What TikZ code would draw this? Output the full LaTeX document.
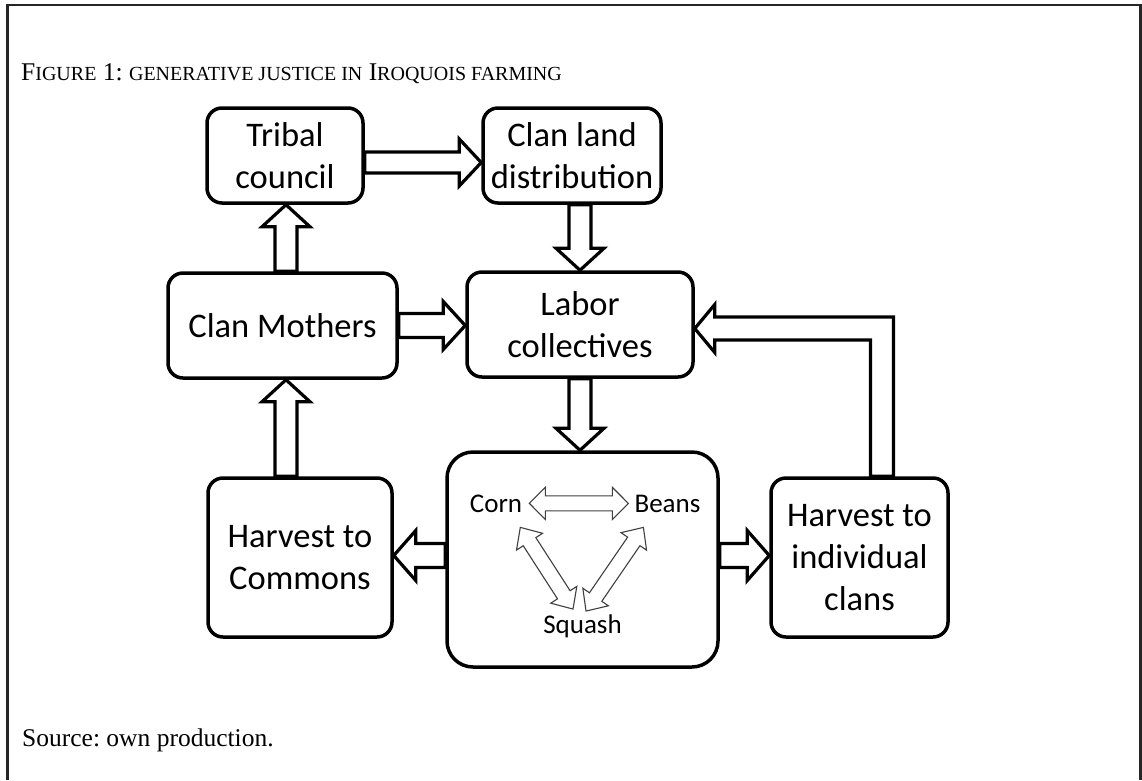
\documentclass[tikz,border=0pt]{standalone}
\usepackage{fontspec}
\setmainfont{Liberation Serif}
\newfontfamily\calib{Carlito}
\usetikzlibrary{calc,backgrounds}
\frenchspacing

% Hollow block arrow: #1 style, #2 start, #3 tip, #4 half shaft, #5 half head, #6 head length
\newcommand\blockarrow[6]{%
  \coordinate (ba-b) at ($(#3)!#6!(#2)$);
  \draw[#1] ($(#2)!#4!90:(#3)$) -- ($(ba-b)!#4!-90:(#2)$) -- ($(ba-b)!#5!-90:(#2)$)
    -- (#3) -- ($(ba-b)!#5!90:(#2)$) -- ($(ba-b)!#4!90:(#2)$) -- ($(#2)!#4!-90:(#3)$) -- cycle;
}
% Hollow arrow with a head at each end
\newcommand\twinarrow[6]{%
  \coordinate (ta-a) at ($(#2)!#6!(#3)$);
  \coordinate (ta-b) at ($(#3)!#6!(#2)$);
  \draw[#1] (#2) -- ($(ta-a)!#5!90:(#3)$) -- ($(ta-a)!#4!90:(#3)$) -- ($(ta-b)!#4!-90:(#2)$)
    -- ($(ta-b)!#5!-90:(#2)$) -- (#3) -- ($(ta-b)!#5!90:(#2)$) -- ($(ta-b)!#4!90:(#2)$)
    -- ($(ta-a)!#4!-90:(#3)$) -- ($(ta-a)!#5!-90:(#3)$) -- cycle;
}
% Small capitals set by hand
\newcommand\smallcap[1]{{\fontsize{20}{20}\selectfont #1}}

\begin{document}
\begin{tikzpicture}[x=1pt,y=-1pt,
  box/.style={draw, line width=3.5pt, rounded corners=15pt, fill=white, align=center,
    inner sep=0pt, font=\calib\fontsize{34.5}{42}\selectfont},
  bigarrow/.style={draw=black, line width=3.2pt, line join=miter, fill=white},
  thinarrow/.style={draw=black!75, line width=1.1pt, line join=miter, fill=white},
  crop/.style={font=\calib\fontsize{27}{30}\selectfont, inner sep=0pt, anchor=base},
  plain/.style={font=\fontsize{25.5}{30}\selectfont, inner sep=0pt, anchor=base west}]
\useasboundingbox (0,0) rectangle (1142,780);

% frame
\draw[line width=2.6pt, black!85] (7.5,780) -- (7.5,5) -- (1140.5,5) -- (1140.5,780);

\node[plain] (caption) at (21,80) {F\smallcap{IGURE} 1: \smallcap{GENERATIVE JUSTICE IN} I\smallcap{ROQUOIS FARMING}};
\node[plain] (source) at (22,746) {Source: own production.};

% boxes
\node[box, minimum width=156pt, minimum height=95pt] (tribal) at (285,155.5) {Tribal\\council};
\node[box, minimum width=178pt, minimum height=95pt] (land) at (572,155.5) {Clan land\\distribution};
\node[box, minimum width=229pt, minimum height=105pt] (mothers) at (282.5,325.5) {Clan Mothers};
\node[box, minimum width=226pt, minimum height=105pt] (labor) at (580,324.5) {Labor\\collectives};
\node[box, minimum width=271pt, minimum height=215pt, rounded corners=26pt] (fields) at (582.5,559.5) {};
\node[box, minimum width=184pt, minimum height=159pt] (commons) at (300,557.5) {Harvest to\\Commons};
\node[box, minimum width=177pt, minimum height=159pt] (clans) at (859.5,557.5) {Harvest to\\individual\\clans};

% the three crops
\node[crop] (corn) at (496,512) {Corn};
\node[crop] (beans) at (667.5,512) {Beans};
\node[crop] (squash) at (582.5,633) {Squash};

\coordinate (cbL) at ($(corn.east)+(7,0)$);
\coordinate (cbR) at ($(beans.west)+(-6,0)$);
\coordinate (csT) at ($(corn.south east)+(-2,15)$);
\coordinate (csB) at ($(squash.north)+(-9.5,-5)$);
\coordinate (bsT) at ($(beans.south west)+(9,15)$);
\coordinate (bsB) at ($(squash.north)+(3.5,-3)$);

% connectors behind the boxes
\begin{pgfonlayer}{background}
  \coordinate (a1s) at (tribal.east |- 0,162.5);
  \coordinate (a1t) at (land.west |- 0,162.5);
  \blockarrow{bigarrow}{a1s}{a1t}{10.5pt}{23.5pt}{22pt}

  \coordinate (a2s) at (land.south -| labor.north);
  \blockarrow{bigarrow}{a2s}{labor.north}{11pt}{24pt}{22pt}

  \coordinate (a3s) at (mothers.north -| 286,0);
  \coordinate (a3t) at (tribal.south -| 286,0);
  \blockarrow{bigarrow}{a3s}{a3t}{11pt}{24pt}{22pt}

  \coordinate (a4t) at (labor.west |- mothers.east);
  \blockarrow{bigarrow}{mothers.east}{a4t}{12pt}{24pt}{22pt}

  \coordinate (a5s) at (commons.north -| 286,0);
  \coordinate (a5t) at (mothers.south -| 286,0);
  \blockarrow{bigarrow}{a5s}{a5t}{11pt}{24pt}{22pt}

  \coordinate (a6t) at (fields.north -| labor.south);
  \blockarrow{bigarrow}{labor.south}{a6t}{11pt}{24pt}{22pt}

  \coordinate (a7s) at (fields.west |- 0,555.5);
  \coordinate (a7t) at (commons.east |- 0,555.5);
  \blockarrow{bigarrow}{a7s}{a7t}{12pt}{25pt}{22pt}

  \coordinate (a8s) at (fields.east |- 0,555.5);
  \coordinate (a8t) at (clans.west |- 0,555.5);
  \blockarrow{bigarrow}{a8s}{a8t}{12pt}{25pt}{22pt}

  % return path from the clans to the labor collectives
  \coordinate (bend) at (882,328.5);
  \coordinate (ret) at (labor.east |- bend);
  \draw[bigarrow] ($(clans.north -| bend)+(11.5,0)$) -- ($(bend)+(11.5,-11.5)$)
    -- ($(ret)+(20,-11.5)$) -- ($(ret)+(20,-24)$) -- (ret) -- ($(ret)+(20,24)$)
    -- ($(ret)+(20,11.5)$) -- ($(bend)+(-11.5,11.5)$) -- ($(clans.north -| bend)+(-11.5,0)$) -- cycle;
\end{pgfonlayer}

\twinarrow{thinarrow}{cbL}{cbR}{7.5pt}{16pt}{16pt}
\twinarrow{thinarrow}{csT}{csB}{7.5pt}{15.5pt}{17pt}
\twinarrow{thinarrow}{bsT}{bsB}{7.5pt}{15.5pt}{17pt}
\end{tikzpicture}
\end{document}
